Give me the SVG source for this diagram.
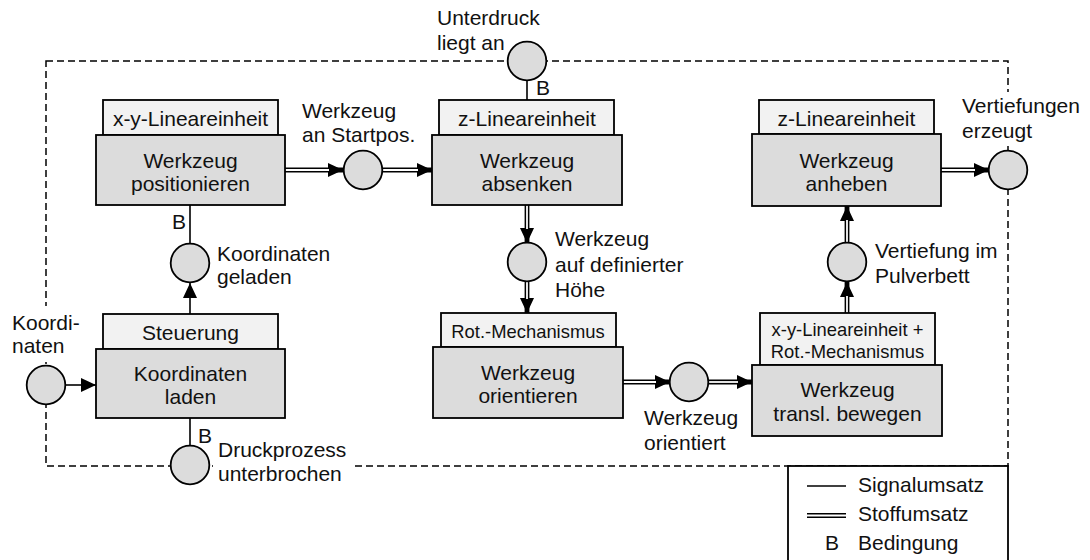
<svg xmlns="http://www.w3.org/2000/svg" width="1090" height="560" viewBox="0 0 1090 560">
<style>
text{font-family:"Liberation Sans",Arial,Helvetica,sans-serif;font-size:21px;fill:#111}
.m{text-anchor:middle}
.s{font-size:18.4px}
.tab{fill:#f2f2f2;stroke:#000;stroke-width:1.8}
.box{fill:#dcdcdc;stroke:#000;stroke-width:1.8}
.st{fill:#dcdcdc;stroke:#000;stroke-width:1.8}
.dash{fill:none;stroke:#000;stroke-width:1.5;stroke-dasharray:7 4}
.sig{fill:none;stroke:#000;stroke-width:1.6}
.dbl{fill:none;stroke:#000;stroke-width:4.8}
.dbi{fill:none;stroke:#fff;stroke-width:1.8}
.bg{fill:#fff}
</style>
<defs>
<marker id="ah" viewBox="0 0 15 14" refX="15" refY="7" markerWidth="15" markerHeight="14" markerUnits="userSpaceOnUse" orient="auto">
<path d="M0,0 L15,7 L0,14 Z" fill="#000"/>
</marker>
</defs>
<rect width="1090" height="560" fill="#fff"/>

<g id="boundary">
<path class="dash" d="M46,61 H1008 V466 H46 Z"/>
</g>

<g id="connectors">
<!-- signal lines -->
<path class="sig" d="M190,205 V244"/>
<path class="sig" d="M190,314 V283" marker-end="url(#ah)"/>
<path class="sig" d="M65,385 H96" marker-end="url(#ah)"/>
<path class="sig" d="M190,418 V446"/>
<path class="sig" d="M527,80 V100"/>
<!-- material flows (double lines) -->
<path class="dbl" d="M285,170 H343" marker-end="url(#ah)"/><path class="dbi" d="M285,170 H329"/>
<path class="dbl" d="M382,170 H432" marker-end="url(#ah)"/><path class="dbi" d="M382,170 H418"/>
<path class="dbl" d="M527,205 V243" marker-end="url(#ah)"/><path class="dbi" d="M527,205 V229"/>
<path class="dbl" d="M527,281 V313" marker-end="url(#ah)"/><path class="dbi" d="M527,281 V299"/>
<path class="dbl" d="M623,382 H670" marker-end="url(#ah)"/><path class="dbi" d="M623,382 H656"/>
<path class="dbl" d="M708,382 H752" marker-end="url(#ah)"/><path class="dbi" d="M708,382 H738"/>
<path class="dbl" d="M847,313 V282" marker-end="url(#ah)"/><path class="dbi" d="M847,313 V296"/>
<path class="dbl" d="M847,243 V206" marker-end="url(#ah)"/><path class="dbi" d="M847,243 V220"/>
<path class="dbl" d="M941,170 H989" marker-end="url(#ah)"/><path class="dbi" d="M941,170 H975"/>
</g>

<g id="node-positionieren">
<rect class="tab" x="103" y="100" width="175" height="35"/>
<rect class="box" x="96" y="135" width="189" height="70"/>
<text class="m" x="190.5" y="126">x-y-Lineareinheit</text>
<text class="m" x="190.5" y="168">Werkzeug</text>
<text class="m" x="190.5" y="191">positionieren</text>
</g>

<g id="node-absenken">
<rect class="tab" x="439" y="100" width="175" height="35"/>
<rect class="box" x="432" y="135" width="190" height="70"/>
<text class="m" x="527" y="126">z-Lineareinheit</text>
<text class="m" x="527" y="168">Werkzeug</text>
<text class="m" x="527" y="191">absenken</text>
</g>

<g id="node-anheben">
<rect class="tab" x="759" y="100" width="175" height="34"/>
<rect class="box" x="752" y="134" width="189" height="72"/>
<text class="m" x="846.5" y="126">z-Lineareinheit</text>
<text class="m" x="846.5" y="168">Werkzeug</text>
<text class="m" x="846.5" y="191">anheben</text>
</g>

<g id="node-laden">
<rect class="tab" x="103" y="314" width="175" height="35"/>
<rect class="box" x="96" y="349" width="189" height="69"/>
<text class="m" x="190.5" y="340">Steuerung</text>
<text class="m" x="190.5" y="381">Koordinaten</text>
<text class="m" x="190.5" y="404">laden</text>
</g>

<g id="node-orientieren">
<rect class="tab" x="441" y="313" width="175" height="34"/>
<rect class="box" x="433" y="347" width="190" height="71"/>
<text class="m s" x="528" y="338">Rot.-Mechanismus</text>
<text class="m" x="528" y="380">Werkzeug</text>
<text class="m" x="528" y="403">orientieren</text>
</g>

<g id="node-bewegen">
<rect class="tab" x="760" y="313" width="175" height="52"/>
<rect class="box" x="752" y="365" width="190" height="71"/>
<text class="m s" x="847.5" y="336">x-y-Lineareinheit +</text>
<text class="m s" x="847.5" y="358">Rot.-Mechanismus</text>
<text class="m" x="847.5" y="397">Werkzeug</text>
<text class="m" x="847.5" y="421">transl. bewegen</text>
</g>

<g id="state-startpos">
<circle class="st" cx="363" cy="170" r="19.3"/>
<text x="302" y="118">Werkzeug</text>
<text x="302" y="142">an Startpos.</text>
</g>

<g id="state-unterdruck">
<circle class="st" cx="527" cy="61" r="19.3"/>
<text x="437" y="25">Unterdruck</text>
<text x="437" y="50">liegt an</text>
<text x="536" y="95">B</text>
</g>

<g id="state-vertiefungen">
<rect class="bg" x="958" y="92" width="128" height="54"/>
<circle class="st" cx="1008" cy="170" r="19.3"/>
<text x="962" y="113">Vertiefungen</text>
<text x="962" y="138">erzeugt</text>
</g>

<g id="state-geladen">
<circle class="st" cx="190" cy="263" r="19.3"/>
<text x="217" y="261">Koordinaten</text>
<text x="217" y="284">geladen</text>
<text x="172" y="229">B</text>
</g>

<g id="state-hoehe">
<circle class="st" cx="527" cy="262" r="19.3"/>
<text x="555" y="246">Werkzeug</text>
<text x="555" y="272">auf definierter</text>
<text x="555" y="297">Höhe</text>
</g>

<g id="state-pulverbett">
<circle class="st" cx="847" cy="262" r="19.3"/>
<text x="875" y="258">Vertiefung im</text>
<text x="875" y="283">Pulverbett</text>
</g>

<g id="state-orientiert">
<circle class="st" cx="689" cy="382" r="19.3"/>
<text x="644" y="425">Werkzeug</text>
<text x="644" y="450">orientiert</text>
</g>

<g id="state-koordinaten">
<rect class="bg" x="8" y="306" width="72" height="56"/>
<circle class="st" cx="46" cy="385" r="19.3"/>
<text x="12" y="330">Koordi-</text>
<text x="12" y="353">naten</text>
</g>

<g id="state-druckprozess">
<rect class="bg" x="213" y="440" width="140" height="47"/>
<circle class="st" cx="190" cy="465" r="19.3"/>
<text x="218" y="457">Druckprozess</text>
<text x="218" y="481">unterbrochen</text>
<text x="198" y="443">B</text>
</g>

<g id="legend">
<rect x="788" y="466" width="220" height="110" fill="#fff" stroke="#000" stroke-width="1.8"/>
<path class="sig" d="M807,486 H846"/>
<path class="dbl" d="M807,515.5 H846"/><path class="dbi" d="M806,515.5 H847"/>
<text x="858" y="492">Signalumsatz</text>
<text x="858" y="521">Stoffumsatz</text>
<text x="825" y="550">B</text>
<text x="858" y="550">Bedingung</text>
</g>
</svg>
